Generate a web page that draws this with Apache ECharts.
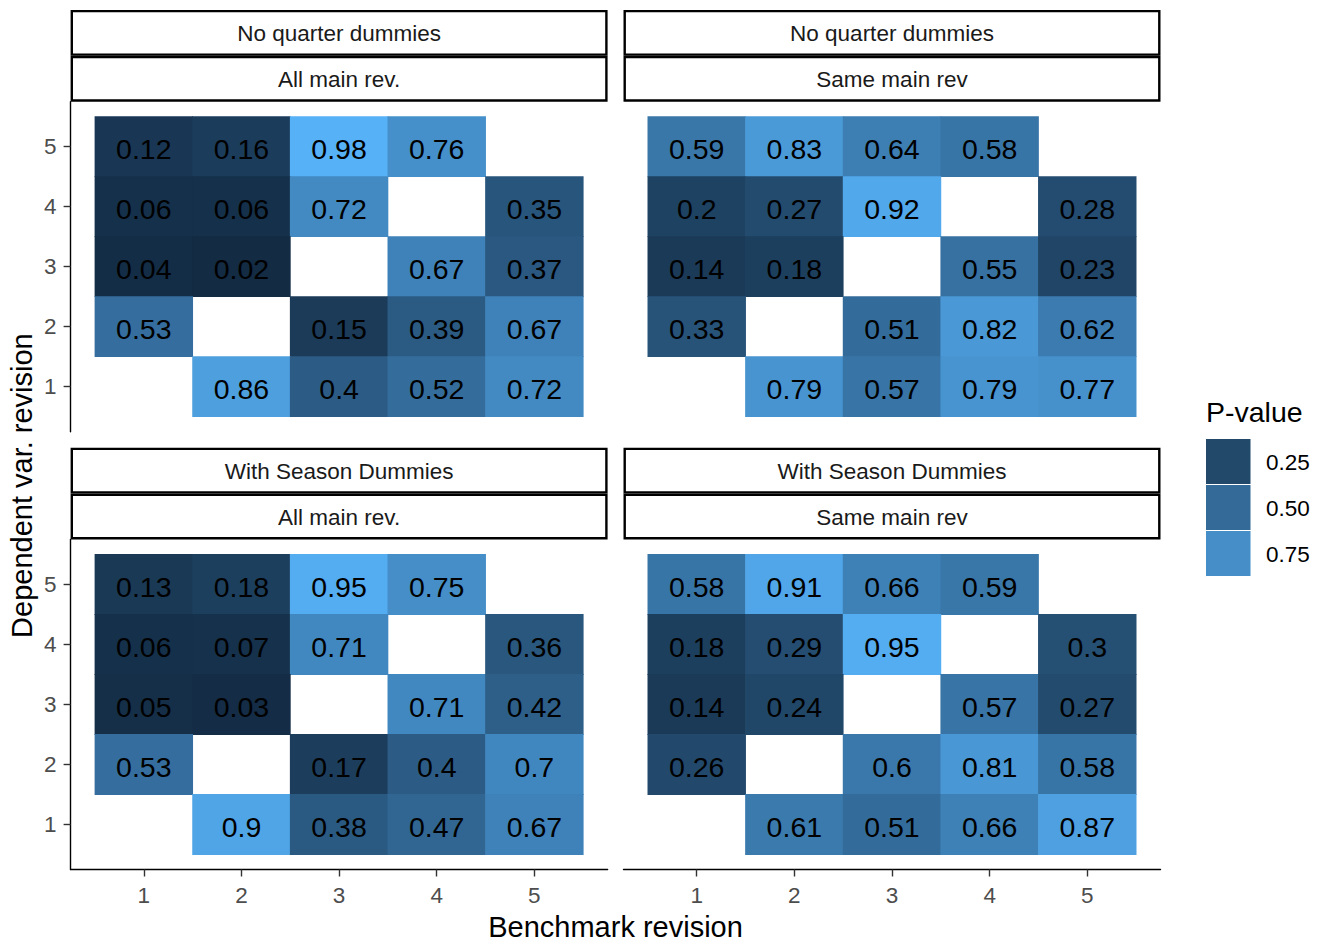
<!DOCTYPE html>
<html>
<head>
<meta charset="utf-8">
<script src="https://cdn.jsdelivr.net/npm/echarts@6/dist/echarts.min.js"></script>
<style>html,body{margin:0;padding:0;background:#fff;}#c{width:1325px;height:944px;}</style>
</head>
<body>
<div id="c"></div>
<script>
// ---- data ----
const xTicks = [1, 2, 3, 4, 5];
const yTicks = [1, 2, 3, 4, 5];
const rowY = [5, 4, 3, 2, 1]; // row order of the matrices below
// No quarter dummies / All main rev.
const noQuarterAllMain = [
  [0.12, 0.16, 0.98, 0.76, null],
  [0.06, 0.06, 0.72, null, 0.35],
  [0.04, 0.02, null, 0.67, 0.37],
  [0.53, null, 0.15, 0.39, 0.67],
  [null, 0.86, 0.4, 0.52, 0.72]
];
// No quarter dummies / Same main rev
const noQuarterSameMain = [
  [0.59, 0.83, 0.64, 0.58, null],
  [0.2, 0.27, 0.92, null, 0.28],
  [0.14, 0.18, null, 0.55, 0.23],
  [0.33, null, 0.51, 0.82, 0.62],
  [null, 0.79, 0.57, 0.79, 0.77]
];
// With Season Dummies / All main rev.
const seasonAllMain = [
  [0.13, 0.18, 0.95, 0.75, null],
  [0.06, 0.07, 0.71, null, 0.36],
  [0.05, 0.03, null, 0.71, 0.42],
  [0.53, null, 0.17, 0.4, 0.7],
  [null, 0.9, 0.38, 0.47, 0.67]
];
// With Season Dummies / Same main rev
const seasonSameMain = [
  [0.58, 0.91, 0.66, 0.59, null],
  [0.18, 0.29, 0.95, null, 0.3],
  [0.14, 0.24, null, 0.57, 0.27],
  [0.26, null, 0.6, 0.81, 0.58],
  [null, 0.61, 0.51, 0.66, 0.87]
];
const stripTop = ['No quarter dummies', 'No quarter dummies', 'With Season Dummies', 'With Season Dummies'];
const stripBottom = ['All main rev.', 'Same main rev', 'All main rev.', 'Same main rev'];
const legendBreaks = [0.25, 0.50, 0.75];
const legendLabels = ['0.25', '0.50', '0.75'];
const legendTitle = 'P-value';
const xTitle = 'Benchmark revision';
const yTitle = 'Dependent var. revision';

// ---- colour scale (ggplot2 default, Lab interpolation) ----
const LOW = '#132B43', HIGH = '#56B1F7';
function hexRgb(h){return [parseInt(h.substr(1,2),16),parseInt(h.substr(3,2),16),parseInt(h.substr(5,2),16)];}
function toLin(c){c/=255;return c<=0.04045?c/12.92:Math.pow((c+0.055)/1.055,2.4);}
function fromLin(c){const v=c<=0.0031308?12.92*c:1.055*Math.pow(c,1/2.4)-0.055;return Math.max(0,Math.min(255,Math.round(v*255)));}
const WX=0.95047,WY=1,WZ=1.08883;
function rgbLab(rgb){
  const r=toLin(rgb[0]),g=toLin(rgb[1]),b=toLin(rgb[2]);
  const X=(0.4124564*r+0.3575761*g+0.1804375*b)/WX;
  const Y=(0.2126729*r+0.7151522*g+0.0721750*b)/WY;
  const Z=(0.0193339*r+0.1191920*g+0.9503041*b)/WZ;
  const f=t=>t>216/24389?Math.cbrt(t):(24389/27*t+16)/116;
  const fx=f(X),fy=f(Y),fz=f(Z);
  return [116*fy-16,500*(fx-fy),200*(fy-fz)];
}
function labRgb(lab){
  const fy=(lab[0]+16)/116,fx=fy+lab[1]/500,fz=fy-lab[2]/200;
  const inv=t=>{const t3=t*t*t;return t3>216/24389?t3:(116*t-16)/(24389/27);};
  const X=inv(fx)*WX,Y=inv(fy)*WY,Z=inv(fz)*WZ;
  const r=3.2404542*X-1.5371385*Y-0.4985314*Z;
  const g=-0.9692660*X+1.8760108*Y+0.0415560*Z;
  const b=0.0556434*X-0.2040259*Y+1.0572252*Z;
  return 'rgb('+fromLin(r)+','+fromLin(g)+','+fromLin(b)+')';
}
const labLo=rgbLab(hexRgb(LOW)),labHi=rgbLab(hexRgb(HIGH));
const panels=[noQuarterAllMain,noQuarterSameMain,seasonAllMain,seasonSameMain];
let vmin=Infinity,vmax=-Infinity;
panels.forEach(p=>p.forEach(r=>r.forEach(v=>{if(v!=null){vmin=Math.min(vmin,v);vmax=Math.max(vmax,v);}})));
function colorOf(v){
  const t=Math.max(0,Math.min(1,(v-vmin)/(vmax-vmin)));
  return labRgb([labLo[0]+(labHi[0]-labLo[0])*t,labLo[1]+(labHi[1]-labLo[1])*t,labLo[2]+(labHi[2]-labLo[2])*t]);
}

// ---- layout ----
const FONT='"Liberation Sans", Arial, sans-serif';
const PW=537, PH=330;
const lefts=[70.6,623.5,70.6,623.5];
const tops=[101.7,101.7,539.5,539.5];
const stripH=45.9;

const grids=[],xAxes=[],yAxes=[],series=[],graphics=[];
for(let i=0;i<4;i++){
  grids.push({left:lefts[i],top:tops[i],width:PW,height:PH,containLabel:false});
  const showX=i>=2, showY=(i%2===0);
  xAxes.push({type:'value',gridIndex:i,min:0.25,max:5.75,show:showX,
    axisLine:{show:true,onZero:false,lineStyle:{color:'#000',width:1.4}},
    axisTick:{show:true,length:7,customValues:xTicks,lineStyle:{color:'#333',width:1.4}},
    axisLabel:{show:true,customValues:xTicks,margin:14,color:'#4D4D4D',fontSize:22.5,fontFamily:FONT},
    splitLine:{show:false}});
  yAxes.push({type:'value',gridIndex:i,min:0.25,max:5.75,show:showY,
    axisLine:{show:true,onZero:false,lineStyle:{color:'#000',width:1.4}},
    axisTick:{show:true,length:7,customValues:yTicks,lineStyle:{color:'#333',width:1.4}},
    axisLabel:{show:true,customValues:yTicks,margin:14,color:'#4D4D4D',fontSize:22.5,fontFamily:FONT},
    splitLine:{show:false}});
  const data=[];
  panels[i].forEach((row,ri)=>row.forEach((v,ci)=>{if(v!=null)data.push([xTicks[ci],rowY[ri],v]);}));
  series.push({type:'custom',xAxisIndex:i,yAxisIndex:i,data:data,encode:{x:0,y:1},silent:true,
    renderItem:function(params,api){
      const x=api.value(0),y=api.value(1),v=api.value(2);
      const p0=api.coord([x-0.5,y+0.5]),p1=api.coord([x+0.5,y-0.5]);
      const c=colorOf(v);
      return {type:'group',children:[
        {type:'rect',shape:{x:p0[0]-0.4,y:p0[1]-0.4,width:p1[0]-p0[0]+0.8,height:p1[1]-p0[1]+0.8},style:{fill:c}},
        {type:'text',z2:10,style:{text:String(v),x:(p0[0]+p1[0])/2,y:(p0[1]+p1[1])/2+2,align:'center',verticalAlign:'middle',
          fill:'#000',fontSize:28.5,fontFamily:FONT}}
      ]};
    }});
  // strips
  const st=tops[i]-2*stripH;
  for(let k=0;k<2;k++){
    const y0=st+k*stripH;
    graphics.push({type:'rect',shape:{x:lefts[i]+1.2,y:y0+1.2,width:PW-2.4,height:stripH-2.4},
      style:{fill:'#fff',stroke:'#000',lineWidth:2.4}});
    graphics.push({type:'text',style:{text:k===0?stripTop[i]:stripBottom[i],x:lefts[i]+PW/2,y:y0+stripH/2+1,
      align:'center',verticalAlign:'middle',fill:'#1A1A1A',fontSize:22.5,fontFamily:FONT}});
  }
}
// axis titles
graphics.push({type:'text',style:{text:xTitle,x:(lefts[0]+lefts[1]+PW)/2,y:927,align:'center',verticalAlign:'middle',fill:'#000',fontSize:29,fontFamily:FONT}});
graphics.push({type:'text',rotation:Math.PI/2,x:22,y:(tops[0]+tops[2]+PH)/2,style:{text:yTitle,x:0,y:0,align:'center',verticalAlign:'middle',fill:'#000',fontSize:29,fontFamily:FONT}});
// legend
graphics.push({type:'text',style:{text:legendTitle,x:1206,y:412,align:'left',verticalAlign:'middle',fill:'#000',fontSize:28.5,fontFamily:FONT}});
legendBreaks.forEach((b,k)=>{
  const y0=438.5+k*46;
  graphics.push({type:'rect',shape:{x:1205.5,y:y0,width:45.5,height:46},style:{fill:colorOf(b),stroke:'#fff',lineWidth:1}});
  graphics.push({type:'text',style:{text:legendLabels[k],x:1266,y:y0+23+1,align:'left',verticalAlign:'middle',fill:'#000',fontSize:22.5,fontFamily:FONT}});
});

const chart=echarts.init(document.getElementById('c'),null,{renderer:'svg'});
chart.setOption({animation:false,backgroundColor:'#fff',grid:grids,xAxis:xAxes,yAxis:yAxes,series:series,graphic:graphics});
</script>
</body>
</html>
